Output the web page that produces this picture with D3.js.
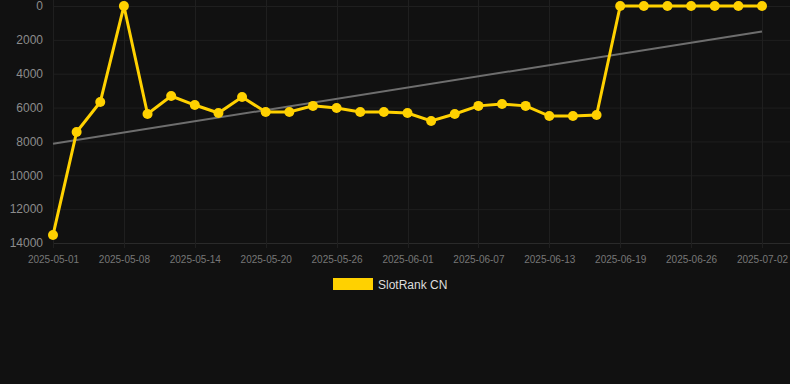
<!DOCTYPE html>
<html>
<head>
<meta charset="utf-8">
<script src="https://cdn.jsdelivr.net/npm/d3@7"></script>
<style>
  html, body { margin: 0; padding: 0; background: #111111; }
  svg { display: block; font-family: Arial, "Liberation Sans", sans-serif; }
</style>
</head>
<body>
<svg width="790" height="384"></svg>
<script>
// dates on the category axis (every third one is labelled)
var dates = ["2025-05-01","2025-05-03","2025-05-05","2025-05-08","2025-05-10","2025-05-12",
  "2025-05-14","2025-05-16","2025-05-18","2025-05-20","2025-05-22","2025-05-24",
  "2025-05-26","2025-05-28","2025-05-30","2025-06-01","2025-06-03","2025-06-05",
  "2025-06-07","2025-06-09","2025-06-11","2025-06-13","2025-06-15","2025-06-17",
  "2025-06-19","2025-06-21","2025-06-24","2025-06-26","2025-06-28","2025-06-30","2025-07-02"];

var ranks = [13530, 7440, 5670, 1, 6380, 5320,
  5850, 6320, 5380, 6260, 6260, 5900,
  6030, 6260, 6260, 6320, 6790, 6380,
  5900, 5790, 5900, 6500, 6500, 6440,
  1, 1, 1, 1, 1, 1, 1];

var yTicks = [0, 2000, 4000, 6000, 8000, 10000, 12000, 14000];
var seriesName = "SlotRank CN";

var svg = d3.select("svg"),
    W = +svg.attr("width");

var x = d3.scalePoint().domain(dates).range([53, 762]),
    y = d3.scaleLinear().domain([0, 14000]).range([6, 243]);

var data = dates.map(function(d, i) { return {date: d, value: ranks[i], i: i}; });

// grid
var grid = svg.append("g");
grid.selectAll(".h").data(yTicks).enter().append("line")
    .attr("x1", 53).attr("x2", W)
    .attr("y1", function(d) { return y(d) + 0.5; })
    .attr("y2", function(d) { return y(d) + 0.5; })
    .attr("stroke", function(d) { return d === 14000 ? "#2a2a2a" : "#1f1f1f"; });

var labelled = dates.filter(function(d, i) { return i % 3 === 0; });
grid.selectAll(".v").data(labelled).enter().append("line")
    .attr("x1", function(d) { return Math.round(x(d)) + 0.5; })
    .attr("x2", function(d) { return Math.round(x(d)) + 0.5; })
    .attr("y1", 0).attr("y2", 248)
    .attr("stroke", "#1f1f1f");

// axes
var yAxis = svg.append("g")
    .attr("transform", "translate(43,0)")
    .call(d3.axisLeft(y).tickValues(yTicks).tickSize(0).tickPadding(0).tickFormat(d3.format("d")));
yAxis.select(".domain").remove();
yAxis.selectAll("text").attr("fill", "#8c8c8c").style("font-size", "12px");

var xAxis = svg.append("g")
    .attr("transform", "translate(0,256)")
    .call(d3.axisBottom(x).tickValues(labelled).tickSize(0).tickPadding(0));
xAxis.select(".domain").remove();
xAxis.selectAll("text").attr("fill", "#777777").style("font-size", "10px");

// linear trend (least squares over the series)
var n = data.length,
    mx = d3.mean(data, function(d) { return d.i; }),
    my = d3.mean(data, function(d) { return d.value; }),
    slope = d3.sum(data, function(d) { return (d.i - mx) * (d.value - my); }) /
            d3.sum(data, function(d) { return (d.i - mx) * (d.i - mx); }),
    icpt = my - slope * mx;

svg.append("line")
    .attr("x1", x(dates[0])).attr("y1", y(icpt))
    .attr("x2", x(dates[n - 1])).attr("y2", y(icpt + slope * (n - 1)))
    .attr("stroke", "#6e6e6e")
    .attr("stroke-width", 2);

// series
var line = d3.line()
    .x(function(d) { return x(d.date); })
    .y(function(d) { return y(d.value); });

svg.append("path")
    .datum(data)
    .attr("d", line)
    .attr("fill", "none")
    .attr("stroke", "#ffd100")
    .attr("stroke-width", 3);

svg.selectAll(".pt").data(data).enter().append("circle")
    .attr("cx", function(d) { return x(d.date); })
    .attr("cy", function(d) { return y(d.value); })
    .attr("r", 5)
    .attr("fill", "#ffd100");

// legend
var legend = svg.append("g").attr("transform", "translate(333,278)");
legend.append("rect").attr("width", 40).attr("height", 12).attr("fill", "#ffd100");
legend.append("text").attr("x", 45).attr("y", 10.5)
    .attr("fill", "#dddddd").style("font-size", "12px").text(seriesName);
</script>
</body>
</html>
